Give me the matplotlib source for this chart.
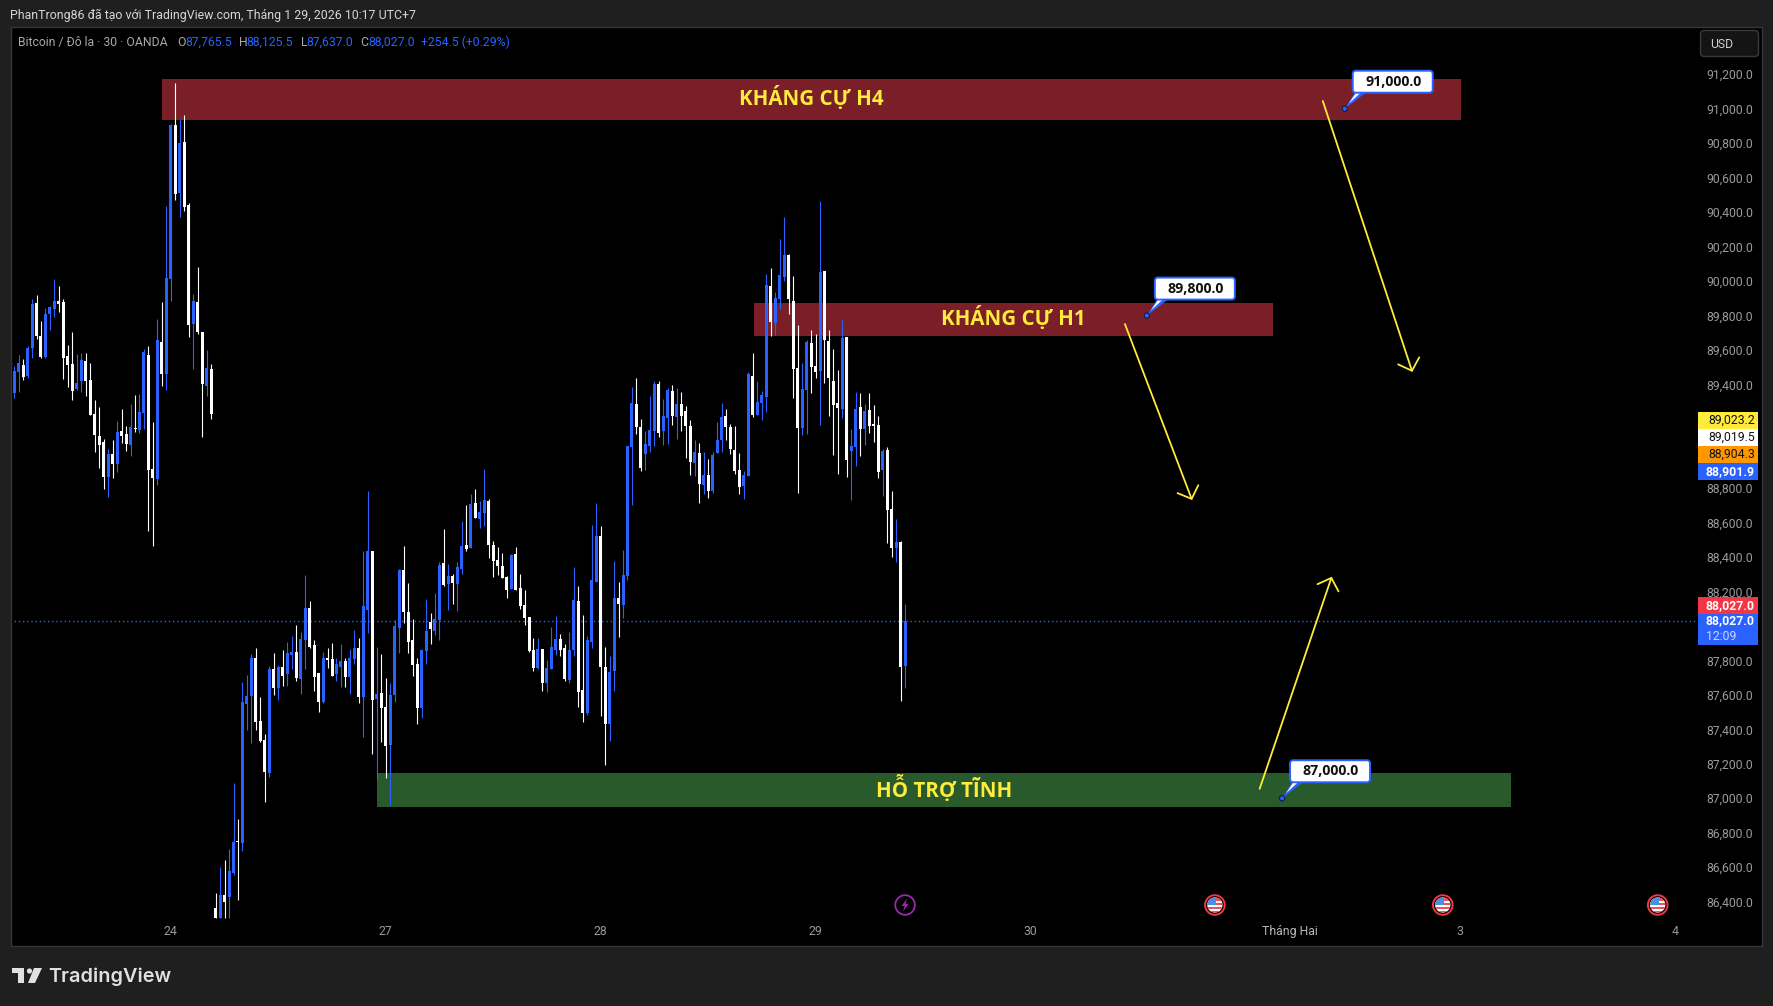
import matplotlib
matplotlib.use("Agg")
import matplotlib.pyplot as plt
from matplotlib.patches import Rectangle, Circle, Polygon, FancyBboxPatch

# ==== data ====
opens = [89351,89473,89514,89450,89612,89873,89682,89560,89809,89839,
         89885,89879,89566,89519,89374,89421,89537,89427,89229,89102,
         89067,88864,88997,88939,89131,89113,89050,89148,89137,89235,
         89572,88910,88852,89647,89461,90013,90906,90511,90807,90442,
         89751,89879,89705,89392,89490,86363,86307,86438,86427,86566,
         86752,86740,87546,87593,87813,87448,87338,87146,87750,87639,
         87761,87721,87831,87848,87692,87918,88103,87889,87726,87558,
         87813,87808,87721,87761,87796,87703,87808,87871,87587,88092,
         88434,87575,87610,87529,87309,87599,87987,88324,88080,87918,
         87779,87523,87854,88022,87970,88034,88365,88243,88289,88243,
         88330,88469,88452,88713,88620,88655,88724,88469,88382,88347,
         88283,88214,88417,88219,88121,88051,87860,87755,87866,87668,
         87750,87860,87924,87871,87686,87860,88144,87628,87494,87906,
         88254,88521,87762,87430,87738,88162,88122,88289,89039,89288,
         89154,88997,89045,89130,89404,89130,89206,89362,89212,89288,
         89246,89160,88945,89003,88817,88875,88783,89003,89079,89218,
         89154,89021,88905,88813,88871,89450,89224,89294,89328,89972,
         89758,89896,90024,90151,89886,89496,89148,89368,89642,89508,
         89478,90059,89654,89420,89294,89258,89676,89015,89039,89270,
         89142,89252,89172,89166,88905,89021,88679,88451,88487,87765.5]
highs = [89508,89572,89548,89624,89897,89920,89769,89844,89856,90013,
         89972,89897,89630,89705,89577,89583,89583,89525,89311,89270,
         89084,89026,89078,89189,89258,89160,89287,89340,89345,89606,
         89624,89183,89780,89879,90436,90912,91150,90941,90964,90453,
         89925,90082,89705,89601,89519,86450,86601,86642,86705,87088,
         86879,87674,87715,87837,87871,87587,87372,87767,87842,87773,
         87860,87906,87941,88005,87964,88295,88144,87918,87726,87848,
         87871,87900,87813,87895,87813,87866,87976,87929,88434,88782,
         88434,87877,87837,87697,87668,88034,88330,88463,88249,88040,
         87813,87866,88156,88074,88190,88370,88562,88359,88301,88370,
         88608,88701,88765,88794,88724,88910,88736,88492,88457,88423,
         88289,88417,88457,88301,88208,88051,87929,87929,87866,87802,
         87993,88057,87953,87895,87964,88341,88231,88063,87941,88585,
         88713,88579,87878,87826,88377,88255,88439,89045,89386,89438,
         89200,89130,89334,89418,89418,89316,89380,89398,89380,89356,
         89276,89194,89079,89061,89009,88969,89009,89182,89294,89258,
         89170,89160,89003,88899,89474,89584,89420,89362,90041,90077,
         89938,90245,90373,90157,90029,89746,89526,89658,89716,89694,
         90465,90059,89716,89606,89484,89776,89676,89142,89356,89352,
         89288,89352,89282,89218,89027,89039,88783,88621,88493,88125.5]
lows = [89322,89357,89427,89438,89554,89664,89554,89554,89717,89792,
        89821,89432,89386,89311,89369,89357,89334,89224,89009,88916,
        88794,88748,88858,88893,89061,89015,88986,89125,89119,89142,
        88551,88464,88817,89392,89369,89885,90471,90372,90407,89676,
        89490,89693,89096,89334,89200,86307,86307,86307,86307,86555,
        86409,86694,87396,87320,87396,87326,86978,87123,87599,87570,
        87651,87651,87750,87680,87605,87750,87871,87622,87500,87552,
        87755,87709,87680,87645,87645,87605,87779,87552,87355,87958,
        87256,87106,87326,87117,86960,87558,87842,88016,87842,87709,
        87431,87465,87779,87895,87947,87918,88231,88092,88127,88086,
        88301,88434,88452,88626,88568,88579,88394,88283,88295,88278,
        88161,88214,88208,88098,88005,87848,87738,87750,87622,87616,
        87750,87831,87825,87680,87668,87825,87529,87442,87483,87871,
        88254,87478,87193,87332,87622,87936,88046,88267,88701,89113,
        88899,88905,89009,89045,89097,89051,89055,89166,89085,89130,
        88975,88875,88871,88713,88765,88743,88771,89003,89009,89079,
        88997,88881,88765,88737,88871,89212,89224,89194,89240,89682,
        89688,89838,90002,89810,89322,88771,89109,89113,89352,89438,
        89166,89410,89218,88993,88881,89206,88865,88731,88929,88987,
        89051,89119,89067,88859,88753,88481,88399,88371,87566,87637]
closes = [89479,89525,89444,89612,89868,89682,89560,89809,89850,89885,
          89868,89554,89514,89363,89409,89543,89421,89224,89108,89050,
          88864,88997,88939,89125,89102,89055,89154,89142,89241,89589,
          88904,88858,89659,89461,90018,90906,90506,90802,90430,89746,
          89885,89705,89403,89496,89229,86307,86438,86398,86578,86746,
          86746,87558,87593,87813,87442,87332,87152,87750,87639,87761,
          87709,87842,87848,87697,87924,88103,87877,87703,87558,87813,
          87802,87709,87779,87796,87703,87813,87871,87587,88115,88434,
          87570,87605,87523,87303,87599,87999,88324,88080,87906,87773,
          87523,87860,87970,87982,88040,88353,88237,88289,88249,88341,
          88463,88446,88707,88626,88660,88730,88469,88376,88347,88278,
          88208,88411,88208,88115,88045,87854,87755,87866,87668,87755,
          87877,87924,87860,87692,87860,88150,87616,87494,87918,88266,
          88521,87762,87430,87732,88162,88128,88295,89045,89294,89154,
          88917,89055,89136,89404,89119,89218,89368,89218,89288,89218,
          89160,88951,89009,88823,88875,88783,88993,89079,89212,89154,
          89027,88899,88807,88875,89462,89224,89298,89340,89978,89764,
          89902,90035,90151,89896,89490,89148,89374,89648,89502,89474,
          90053,89658,89438,89282,89264,89670,88963,89045,89258,89142,
          89246,89160,89160,88893,89015,88673,88451,88487,87762,88027]

price_ticks = [86400 + 200 * k for k in range(25)]
hidden_ticks = [88000, 89000, 89200]  # sit under the price badges
time_ticks = [35, 83, 131, 179, 227, 285, 323, 371]
time_labels = ["24", "27", "28", "29", "30", "Tháng Hai", "3", "4"]

zone_names = ["KHÁNG CỰ H4", "KHÁNG CỰ H1", "HỖ TRỢ TĨNH"]
zone_start = [33.0, 165.2, 81.0]
zone_end = [323.2, 281.2, 334.3]
zone_top = [91173, 89873, 87147]
zone_bottom = [90935, 89682, 86950]
zone_colors = ["#7a1f27", "#7a1f27", "#295a2b"]

arrow_from = [(292.3, 91045), (248.1, 89751), (278.2, 87055)]
arrow_to = [(312.3, 89473), (263.1, 88730), (294.3, 88285)]

note_index = [297.2, 253.0, 283.2]
note_price = [91000.0, 89800.0, 87000.0]

badge_values = ["89,023.2", "89,019.5", "88,904.3", "88,901.9", "88,027.0"]
event_index = [199.0, 268.2, 319.1, 367.1]

W, H = 1773, 1006
BG = "#1f1f1f"
BLUE = "#2962ff"
WHITE = "#ffffff"
YELLOW = "#ffeb3b"
TICK = "#9a9a9a"
NARROW = ["Roboto", "DejaVu Sans"]
UI = ["Open Sans", "DejaVu Sans"]
FS = 8.8

fig = plt.figure(figsize=(W / 100, H / 100), dpi=100, facecolor=BG)

# ==== price pane ====
left, right, top, bottom = 11, 1762, 27, 946
ax = fig.add_axes([left / W, 1 - bottom / H, (right - left) / W, (bottom - top) / H])
ax.set_facecolor("black")
ax.set_xlim(-0.7, 390.4)
ax.set_ylim(86143, 91474)
for s in ax.spines.values():
    s.set_color("#363636")
    s.set_linewidth(1)

ax.yaxis.tick_right()
ax.set_yticks(price_ticks)
ax.set_yticklabels(["" if p in hidden_ticks else f"{p:,.1f}" for p in price_ticks],
                   family=NARROW, fontsize=FS, color=TICK, ha="right")
ax.tick_params(axis="y", length=0, pad=-6.5)
ax.set_xticks(time_ticks)
ax.set_xticklabels(time_labels, family=NARROW, fontsize=FS, color=TICK)
ax.get_xticklabels()[5].set_color("#b8b8b8")
ax.tick_params(axis="x", length=0, pad=-15)

# zones sit under the candles
for i in range(3):
    ax.add_patch(Rectangle((zone_start[i], zone_bottom[i]), zone_end[i] - zone_start[i],
                           zone_top[i] - zone_bottom[i], color=zone_colors[i], lw=0, zorder=1))
    ax.text((zone_start[i] + zone_end[i]) / 2, (zone_top[i] + zone_bottom[i]) / 2 + 8, zone_names[i],
            family=UI, fontsize=14.8, fontweight="bold", color=YELLOW, ha="center", va="center", zorder=5)

ax.plot([-1, 376.3], [closes[-1], closes[-1]], color=BLUE, lw=1, ls=(0, (1, 2)), zorder=2)

# ==== candles ====
idx = list(range(len(opens)))
colors = [BLUE if c >= o else WHITE for o, c in zip(opens, closes)]
ax.vlines(idx, lows, highs, colors=colors, lw=0.8, zorder=3)
ax.bar(idx, [abs(c - o) for o, c in zip(opens, closes)], bottom=[min(o, c) for o, c in zip(opens, closes)],
       width=0.67, color=colors, lw=0, zorder=4)

# ==== arrows ====
for a, b in zip(arrow_from, arrow_to):
    ax.annotate("", xy=b, xytext=a, zorder=6,
                arrowprops=dict(arrowstyle="->,head_length=0.75,head_width=0.8", color=YELLOW, lw=1.3,
                                shrinkA=0, shrinkB=0, mutation_scale=10))

# ==== overlay in pixel coordinates for the terminal chrome ====
ov = fig.add_axes([0, 0, 1, 1])
ov.set_xlim(0, W)
ov.set_ylim(H, 0)
ov.axis("off")

ov.text(10, 15, "PhanTrong86 đã tạo với TradingView.com, Tháng 1 29, 2026 10:17 UTC+7",
        family=NARROW, fontsize=8.9, color="#d6d6d6", va="center")
ov.text(18, 42, "Bitcoin / Đô la · 30 · OANDA", family=NARROW, fontsize=FS, color="#a8a8a8", va="center")
ohlc = [(177, 185, "O", "87,765.5"), (238.5, 246.5, "H", "88,125.5"), (301, 306.5, "L", "87,637.0"), (360, 368, "C", "88,027.0")]
for x, vx, letter, value in ohlc:
    ov.text(x, 42, letter, family=NARROW, fontsize=FS, color="#a8a8a8", va="center")
    ov.text(vx, 42, value, family=NARROW, fontsize=FS, color=BLUE, va="center")
ov.text(421, 42, "+254.5 (+0.29%)", family=NARROW, fontsize=FS, color=BLUE, va="center")

ov.add_patch(FancyBboxPatch((1703, 33), 53, 21, boxstyle="round,pad=2.5,rounding_size=4",
                            fc="#141414", ec="#3a3a3a", lw=1))
ov.text(1710, 44, "USD", family=NARROW, fontsize=FS, color="#cfcfcf", ha="left", va="center")

badges = [(412, 429.3, "#ffeb3b", "#111111", 0), (429.3, 446, "#ffffff", "#111111", 1),
          (446, 463.3, "#ff9800", "#111111", 2), (463.3, 480, BLUE, "#ffffff", 3),
          (597, 613.7, "#f23645", "#ffffff", 4)]
for y0, y1, fc, tc, k in badges:
    ov.add_patch(Rectangle((1698, y0), 60, y1 - y0, color=fc, lw=0))
    ov.text(1755, (y0 + y1) / 2, badge_values[k], family=NARROW, fontsize=FS, color=tc, ha="right", va="center",
            fontweight="bold" if tc == "#ffffff" else "normal")
ov.add_patch(Rectangle((1698, 613.7), 60, 31.5, color=BLUE, lw=0))
ov.text(1755, 621, badge_values[4], family=NARROW, fontsize=FS, color="#ffffff", ha="right", va="center", fontweight="bold")
ov.text(1706, 637, "12:09", family=NARROW, fontsize=FS, color="#c8d6ff", ha="left", va="center")

# price notes: dot comes from the price scale, the box hangs up and to the right of it
for px_i, price in zip(note_index, note_price):
    dx, dy = ov.transData.inverted().transform(ax.transData.transform((px_i, price)))
    x0, y0 = dx + 7, dy - 39
    ov.add_patch(Polygon([(dx, dy), (x0 + 3, y0 + 23), (x0 + 14, y0 + 23)], color=BLUE, lw=0, zorder=3))
    ov.add_patch(Polygon([(dx + 4, dy - 5), (x0 + 5, y0 + 22), (x0 + 10, y0 + 22)], color=WHITE, lw=0, zorder=3))
    ov.add_patch(FancyBboxPatch((x0 + 2, y0 + 2), 78, 20, boxstyle="round,pad=1,rounding_size=3",
                                fc=WHITE, ec=BLUE, lw=1.4, zorder=4))
    ov.text(x0 + 41.5, y0 + 12, f"{price:,.1f}", family=UI, fontsize=10.2, fontweight="bold",
            color="#111111", ha="center", va="center", zorder=5)
    ov.add_patch(Circle((dx, dy), 2.6, fc=BLUE, ec="#0b1a55", lw=0.8, zorder=6))

# ==== event icons ====
for k, ei in enumerate(event_index):
    cx = ov.transData.inverted().transform(ax.transData.transform((ei, 87000)))[0]
    cy = 905
    if k == 0:
        ov.add_patch(Circle((cx, cy), 9.8, fc="black", ec="#9c27b0", lw=1.3))
        ov.add_patch(Polygon([(cx + 2, cy - 6.5), (cx - 3.5, cy + 1), (cx - 0.5, cy + 1), (cx - 2, cy + 6.5),
                              (cx + 3.5, cy - 1), (cx + 0.5, cy - 1)], color="#9c27b0", lw=0))
    else:
        ov.add_patch(Circle((cx, cy), 9.8, fc="black", ec="#f23645", lw=1.4))
        disc = Circle((cx, cy), 7.6, fc=WHITE, lw=0)
        ov.add_patch(disc)
        pieces = [Rectangle((cx - 8, cy - 8), 16, 8, color="#e8545a", lw=0),
                  Rectangle((cx - 8, cy - 4.5), 16, 2, color=WHITE, lw=0),
                  Rectangle((cx - 8, cy + 1.5), 16, 2.6, color="#e8545a", lw=0),
                  Rectangle((cx - 8, cy + 5.5), 16, 2.6, color="#e8545a", lw=0),
                  Rectangle((cx - 8, cy - 8), 9, 8, color="#4a90e2", lw=0)]
        for p in pieces:
            ov.add_patch(p)
            p.set_clip_path(disc)

# ==== logo ====
LOGO = "#e0e0e0"
ov.add_patch(Polygon([(12, 968), (23.5, 968), (23.5, 983), (17.5, 983), (17.5, 973), (12, 973)], color=LOGO, lw=0))
ov.add_patch(Circle((29.5, 971), 2.6, color=LOGO, lw=0))
ov.add_patch(Polygon([(34, 968), (42, 968), (35, 983), (28, 983)], color=LOGO, lw=0))
ov.text(48, 977, "TradingView", family=["Inter", "DejaVu Sans"], fontsize=14.3, fontweight="semibold",
        color=LOGO, va="center")

fig.savefig("out.png", dpi=100, facecolor=BG)
